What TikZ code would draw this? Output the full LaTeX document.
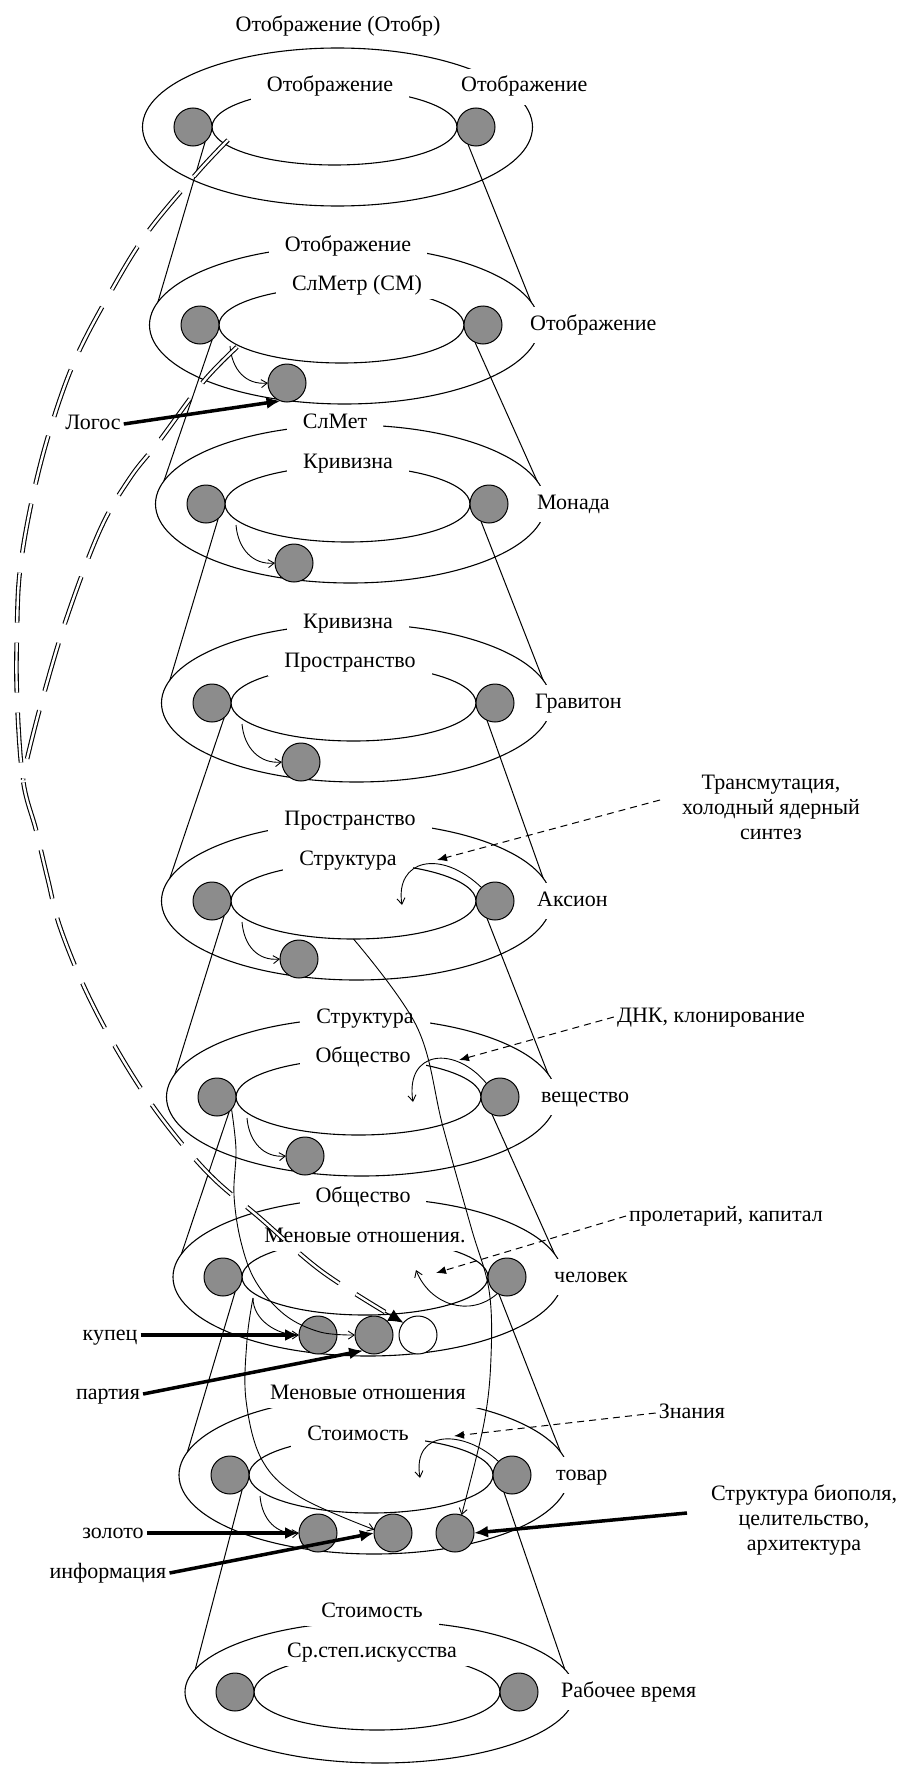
\documentclass[tikz,border=0pt]{standalone}
\usepackage{fontspec}
\setmainfont{Liberation Serif}
\usetikzlibrary{shapes.geometric,arrows.meta,calc}
\definecolor{dotgray}{RGB}{140,140,140}
\begin{document}
\begin{tikzpicture}[x=1pt,y=-1pt,
 ring/.style={draw, ellipse, line width=1.1pt, inner sep=0pt, outer sep=0pt},
 dot/.style={circle, draw, line width=1pt, fill=dotgray, minimum size=38pt, inner sep=0pt, outer sep=0pt},
 wdot/.style={dot, fill=white},
 lbl/.style={font=\fontsize{22}{25}\selectfont, inner sep=3pt, text height=15pt, text depth=5pt},
 gaplbl/.style={lbl, fill=white, inner xsep=16pt, inner ysep=4pt},
 sidelbl/.style={lbl, fill=white, anchor=west, inner xsep=5pt, inner ysep=8pt},
 note/.style={font=\fontsize{22}{25}\selectfont, align=center, inner sep=3pt},
 cone/.style={line width=1pt},
 thinarr/.style={line width=0.9pt, -{Straight Barb[length=6pt,width=8pt]}},
 thickarr/.style={line width=3.5pt, -{Latex[length=14pt,width=12pt]}},
 dasharr/.style={line width=1pt, dash pattern=on 7pt off 5pt, -{Latex[length=10pt,width=8pt]}},
 ddash/.style={line width=1.1pt, double=white, double distance=2.4pt, dash pattern=on 50pt off 20pt}
]
\useasboundingbox (0,0) rectangle (904,1766);
\fill[white] (0,0) rectangle (904,1766);

% ---------- rings ----------
\foreach \i/\xl/\xr/\cy in {1/193/476/127,2/200/483/325,3/206/489/504,4/212/495/703,5/212/495/901,6/217/500/1097,7/223/507/1277,8/230/512/1475}{
  \pgfmathsetmacro\cx{(\xl+\xr)/2}
  \pgfmathsetmacro\win{\xr-\xl-38}
  \node[ring, minimum width=390pt, minimum height=158pt] (O\i) at (\cx+3,\cy) {};
  \node[ring, minimum width=\win pt, minimum height=76pt] (I\i) at (\cx,\cy) {};
}
\node[ring, minimum width=390pt, minimum height=142pt] (O9) at (380,1692) {};
\node[ring, minimum width=246pt, minimum height=76pt] (I9) at (377,1692) {};

% ---------- labels ----------
\node[lbl] (top1) at (338,27) {Отображение (Отобр)};
\node[gaplbl] (ot2) at (348,246) {Отображение};
\node[gaplbl] (ot3) at (335,423) {СлМет};
\node[gaplbl] (ot4) at (348,623) {Кривизна};
\node[gaplbl] (ot5) at (350,820) {Пространство};
\node[gaplbl] (ot6) at (365,1018) {Структура};
\node[gaplbl] (ot7) at (363,1197) {Общество};
\node[gaplbl] (ot8) at (368,1394) {Меновые отношения};
\node[gaplbl] (ot9) at (372,1612) {Стоимость};

\node[gaplbl] (in1) at (330,87) {Отображение};
\node[gaplbl] (in2) at (357,285) {СлМетр (СМ)};
\node[gaplbl] (in3) at (348,463) {Кривизна};
\node[gaplbl] (in4) at (350,662) {Пространство};
\node[gaplbl] (in5) at (348,860) {Структура};
\node[gaplbl] (in6) at (363,1057) {Общество};
\node[gaplbl] (in7) at (365,1237) {Меновые отношения.};
\node[gaplbl] (in8) at (358,1435) {Стоимость};
\node[gaplbl] (in9) at (372,1652) {Ср.степ.искусства};

\node[sidelbl] (rt1) at (456,87) {Отображение};
\node[sidelbl] (rt2) at (525,325) {Отображение};
\node[sidelbl] (rt3) at (532,504) {Монада};
\node[sidelbl] (rt4) at (530,703) {Гравитон};
\node[sidelbl] (rt5) at (532,901) {Аксион};
\node[sidelbl] (rt6) at (536,1097) {вещество};
\node[sidelbl] (rt7) at (549,1277) {человек};
\node[sidelbl] (rt8) at (551,1475) {товар};
\node[sidelbl] (rt9) at (556,1692) {Рабочее время};

% ---------- circles ----------
\foreach \i/\xl/\xr/\cy in {1/193/476/127,2/200/483/325,3/206/489/504,4/212/495/703,5/212/495/901,6/217/500/1097,7/223/507/1277,8/230/512/1475,9/235/519/1692}{
  \node[dot] (Ll\i) at (\xl,\cy) {};
  \node[dot] (Lr\i) at (\xr,\cy) {};
}
\node[dot] (s2) at (287,383) {};
\node[dot] (s3) at (294,563) {};
\node[dot] (s4) at (301,762) {};
\node[dot] (s5) at (299,959) {};
\node[dot] (s6) at (305,1156) {};
\node[dot] (a7) at (318,1335) {};
\node[dot] (b7) at (374,1335) {};
\node[wdot] (w7) at (418,1335) {};
\node[dot] (a8) at (318,1533) {};
\node[dot] (b8) at (393,1533) {};
\node[dot] (c8) at (455,1533) {};

% ---------- cone lines ----------
\foreach \a/\b in {1/2,2/3,3/4,4/5,5/6,6/7,7/8,8/9}{
  \draw[cone] (Ll\a.-50) -- (O\b.173);
  \draw[cone] (Lr\a.-115) -- (O\b.7);
}

% ---------- small arrows ----------
\foreach \i in {2,...,6}{
  \draw[thinarr] ($(Ll\i)+(30,21)$) .. controls +(2,24) and +(-22,2) .. (s\i.west);
}
\coordinate (st7) at ($(Ll7)+(30,21)$);
\coordinate (st8) at ($(Ll8)+(30,21)$);
\draw[thinarr] (st7) .. controls +(0,22) and +(-22,0) .. (a7.west);
\draw[thinarr] (st8) .. controls +(2,24) and +(-22,2) .. (a8.west);

% ---------- curls ----------
\coordinate (e5) at (402,905);
\coordinate (e6) at (413,1102);
\coordinate (e7) at (416,1270);
\coordinate (e8) at (420,1478);
\draw[thinarr] (Lr5.135) .. controls (440,848) and (395,860) .. (e5);
\draw[thinarr] (Lr6.135) .. controls (455,1045) and (405,1050) .. (e6);
\draw[thinarr] (Lr7.-120) .. controls (470,1318) and (430,1305) .. (e7);
\draw[thinarr] (Lr8.135) .. controls (465,1430) and (412,1428) .. (e8);

% ---------- long curves ----------
\draw[thinarr] plot[smooth, tension=0.6] coordinates {(I5.south) (417,1027) (443,1127) (471,1227) (489,1290) (491,1357) (484,1423) (c8.70)};
\draw[thinarr] plot[smooth, tension=0.6] coordinates {(Ll6.-40) (236,1150) (234,1195) (241,1242) (256,1282) (285,1315) (320,1332) (b7.west)};
\draw[thinarr] plot[smooth, tension=0.6] coordinates {(st7) (247,1340) (246,1400) (262,1460) (300,1497) (b8.170)};

% ---------- double dashed ----------
\coordinate (dA) at (228,140);
\coordinate (dB) at (237,347);
\coordinate (dM) at (23,780);
\coordinate (dE) at (385,1312);
\draw[ddash] plot[smooth, tension=0.6] coordinates {(dA) (197,173) (147,233) (110,293) (75,360) (50,430) (32,500) (20,570) (17,630) (17,697) (dM) (36,830) (48,880) (60,927) (87,993) (123,1060) (163,1120) (210,1175) (260,1218) (320,1270) (dE)};
\draw[ddash] plot[smooth, tension=0.6] coordinates {(dB) (203,382) (160,440) (130,478) (100,530) (67,617) (43,697) (28,755) (dM)};
\draw[line width=1pt, -{Latex[length=15pt,width=13pt]}] (dE) -- (w7.140);

% ---------- annotations ----------
\node[note] (trans) at (771,807) {Трансмутация,\\холодный ядерный\\синтез};
\coordinate (transS) at (660,800);
\coordinate (k5) at (437,860);
\draw[dasharr] (transS) -- (k5);
\node[lbl] (dnk) at (711,1017) {ДНК, клонирование};
\coordinate (k6) at (459,1060);
\draw[dasharr] (dnk.west) -- (k6);
\node[lbl] (prol) at (726,1216) {пролетарий, капитал};
\coordinate (k7) at (436,1273);
\draw[dasharr] (prol.west) -- (k7);
\node[lbl] (znan) at (692,1413) {Знания};
\coordinate (k8) at (454,1436);
\draw[dasharr] (znan.west) -- (k8);

% ---------- thick arrows ----------
\node[lbl] (logos) at (93,424) {Логос};
\draw[thickarr] (logos.east) -- (s2.-110);
\node[lbl] (kupec) at (110,1335) {купец};
\draw[thickarr] (kupec.east) -- (a7.west);
\node[lbl] (partiya) at (108,1394) {партия};
\draw[thickarr] (partiya.east) -- (b7.-125);
\node[lbl] (zoloto) at (113,1533) {золото};
\draw[thickarr] (zoloto.east) -- (a8.west);
\node[lbl] (inform) at (108,1573) {информация};
\draw[thickarr] (inform.east) -- (b8.west);
\node[note] (bio) at (804,1520) {Структура биополя,\\целительство,\\архитектура};
\coordinate (bioS) at (687,1513);
\draw[thickarr] (bioS) -- (c8.east);
\end{tikzpicture}
\end{document}
